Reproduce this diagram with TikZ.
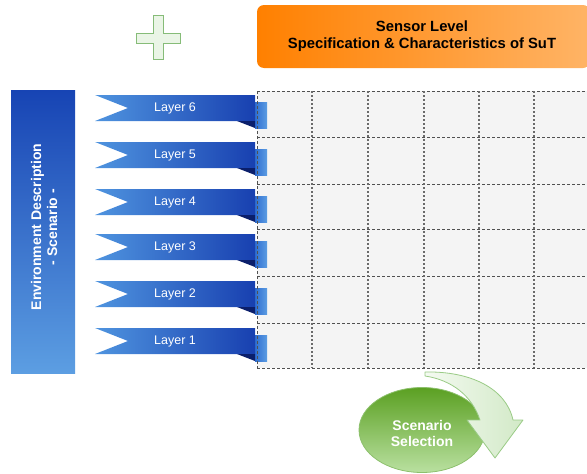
\documentclass[tikz,border=0pt]{standalone}
\usepackage{fontspec}
\setmainfont{Liberation Sans}
\usetikzlibrary{shapes.geometric}
\definecolor{ribL}{HTML}{4F94DF}
\definecolor{ribR}{HTML}{1840B0}
\definecolor{tabL}{HTML}{2F6ED2}
\definecolor{tabR}{HTML}{5C9DE2}
\definecolor{fold}{HTML}{0B1F6B}
\definecolor{gridfill}{HTML}{F4F4F4}
\definecolor{gridline}{HTML}{505050}
\definecolor{barTop}{HTML}{1744B4}
\definecolor{barBot}{HTML}{5C9EE2}
\definecolor{orL}{HTML}{FF8000}
\definecolor{orR}{HTML}{FFB466}
\definecolor{plusFill}{HTML}{EAF5E6}
\definecolor{plusLine}{HTML}{86BC78}
\definecolor{elTop}{HTML}{5BA022}
\definecolor{elBot}{HTML}{B9E0A0}
\definecolor{elLine}{HTML}{8CC06C}
\definecolor{arL}{HTML}{F4FAF1}
\definecolor{arR}{HTML}{D2E9C7}
\definecolor{arLine}{HTML}{9ACB86}
\tikzset{
  layertext/.style={text=white, font=\fontsize{12.5}{14}\selectfont, inner sep=0pt},
  rowline/.style={draw=gridline, line width=1pt, dash pattern=on 3pt off 2pt},
  colline/.style={draw=gridline!85, line width=1.1pt, dash pattern=on 2pt off 2pt},
  boldtext/.style={font=\fontsize{14}{16}\selectfont\bfseries, align=center, inner sep=0pt},
  headtext/.style={font=\fontsize{14.8}{17}\selectfont\bfseries, align=center, inner sep=0pt}
}
\newcommand{\myribbon}[3]{%
  % #1 top y, #2 label, #3 node name
  \shade[left color=tabL, right color=tabR] (255,#1+7) rectangle (267,#1+33);
  \shade[left color=ribL, right color=ribR] (95,#1) -- (255,#1) -- (255,#1+26) -- (95,#1+26) -- (128,#1+13) -- cycle;
  \fill[fold] (237,#1+26) -- (255,#1+26) -- (255,#1+33) -- cycle;
  \node[layertext] (#3) at (175,#1+13) {#2};
}
\begin{document}
\begin{tikzpicture}[x=1pt,y=-1pt]
\useasboundingbox (0,0) rectangle (587,474);
% grid background
\fill[gridfill] (257,91) rectangle (587,368);
% ribbons
\myribbon{95}{Layer 6}{l6}
\myribbon{142}{Layer 5}{l5}
\myribbon{189}{Layer 4}{l4}
\myribbon{234}{Layer 3}{l3}
\myribbon{281}{Layer 2}{l2}
\myribbon{328}{Layer 1}{l1}
% grid lines
\foreach \yy in {91,137,184,229,276,323,368} {
  \draw[rowline] (257,\yy) -- (587,\yy);
}
\draw[rowline] (257,91) -- (257,368);
\foreach \xx in {312,368,424,479,534} {
  \draw[colline] (\xx,91) -- (\xx,368);
}
% left bar
\shade[top color=barTop, bottom color=barBot] (11,90) rectangle (75,373);
\node[boldtext, text=white, rotate=90] (env) at (44,227) {Environment Description\\- Scenario -};
% header
\shade[rounded corners=7pt, left color=orL, right color=orR] (257,5) rectangle (590,68);
\node[headtext, text=black] (hdr) at (422,36) {Sensor Level\\Specification \& Characteristics of SuT};
% plus
\draw[plusLine, fill=plusFill, line width=1pt] (153,15) -- (163,15) -- (163,33) -- (180,33) -- (180,43) -- (163,43) -- (163,59) -- (153,59) -- (153,43) -- (136,43) -- (136,33) -- (153,33) -- cycle;
% ellipse
\node[ellipse, minimum width=126pt, minimum height=85pt, top color=elTop, bottom color=elBot, draw=elLine, line width=0.8pt, inner sep=0pt] (sel) at (422,430) {};
\node[boldtext, text=white] (seltext) at (422,433) {Scenario\\Selection};
% curved arrow
\draw[arLine, left color=arL, right color=arR, line width=0.8pt, line join=round]
  (425,372) .. controls (470,371) and (506,388) .. (513,420)
  -- (523,420) -- (495,458) -- (467,420) -- (480,420)
  .. controls (472,396) and (452,380) .. (425,376) -- cycle;
\end{tikzpicture}
\end{document}
